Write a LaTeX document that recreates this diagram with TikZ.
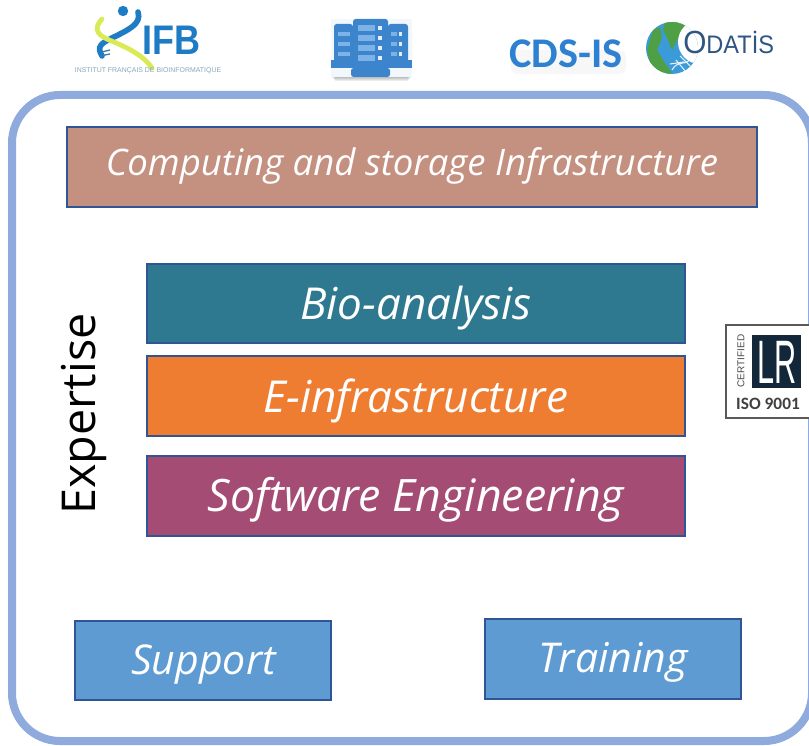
\documentclass[tikz,border=0pt]{standalone}
\usepackage{fontspec}
\setmainfont{Open Sans}
\newfontfamily\carfont{Carlito}
\newfontfamily\libfont{Liberation Sans}
\definecolor{frameblue}{HTML}{8FAADC}
\definecolor{edgeblue}{HTML}{2F5597}
\definecolor{rose}{HTML}{C49080}
\definecolor{teal2}{HTML}{2E7890}
\definecolor{orange2}{HTML}{EF7D31}
\definecolor{plum}{HTML}{A54C75}
\definecolor{sky}{HTML}{5F9BD3}
\definecolor{logoblue}{HTML}{2E80D0}
\definecolor{ifbblue}{HTML}{1E7CC4}
\definecolor{srv}{HTML}{3C85CC}
\definecolor{srvlight}{HTML}{7DB2E6}
\definecolor{odablue}{HTML}{2F5583}
\definecolor{globeblue}{HTML}{3B9BD8}
\definecolor{globegreen}{HTML}{4FA045}
\definecolor{lrdark}{HTML}{12283A}
\tikzset{
  box/.style={draw=edgeblue,line width=2.1pt,fill=#1},
  label/.style={text=white,font=\itshape\fontsize{33}{38}\selectfont,inner sep=0pt},
  smalllabel/.style={text=white,font=\itshape\fontsize{30.8}{36}\selectfont,inner sep=0pt},
  srvbar/.style={fill=srvlight},
  srvdot/.style={fill=white!85!srv},
}
\begin{document}
\begin{tikzpicture}[x=0.75pt,y=-0.75pt]
\useasboundingbox (0,0) rectangle (809,745);
\begin{scope}
\clip (0,0) rectangle (809,745);
\draw[frameblue,line width=6pt,rounded corners=36pt] (12,95) rectangle (812,741);

% boxes
\draw[box=rose] (67,127) rectangle (757,207);
\draw[box=teal2] (147,264) rectangle (685,343);
\draw[box=orange2] (147,356) rectangle (685,436);
\draw[box=plum] (147,456) rectangle (685,536);
\draw[box=sky] (75,621) rectangle (331,700);
\draw[box=sky] (485,619) rectangle (741,699);

\node[label,font=\itshape\fontsize{27.4}{32}\selectfont] (compute) at (412,166) {Computing and storage Infrastructure};
\node[label] (bio) at (416,308) {Bio-analysis};
\node[label] (einfra) at (416,401) {E-infrastructure};
\node[label,font=\itshape\fontsize{33.5}{38}\selectfont] (soft) at (416,500) {Software Engineering};
\node[smalllabel] (support) at (203.5,665) {Support};
\node[smalllabel] (training) at (613,662) {Training};
\node[rotate=90,font=\fontsize{35}{40}\selectfont,inner sep=0pt] (expertise) at (84,414) {Expertise};

% IFB logo
\draw[ifbblue,line width=4.2pt,line cap=round] (138,12) .. controls (142,24) and (128,30) .. (112,38) .. controls (102,43) and (96,46) .. (102,56);
\draw[ifbblue!70!gray,line width=1pt] (102,52) -- (110,50) (100,56) -- (110,54);
\fill[ifbblue] (123,11) circle (5.2);
\draw[color=white!35!yellow!85!green,line width=3.6pt,line cap=round] (102,19) .. controls (92,30) and (98,36) .. (114,42) .. controls (130,49) and (144,56) .. (152,68);
\node[text=ifbblue,font=\libfont\bfseries\fontsize{31}{36}\selectfont,inner sep=0pt] (ifb) at (171,40) {\scalebox{0.87}[1]{IFB}};
\node[text=gray!55!ifbblue!70!white,font=\libfont\fontsize{5.2}{6}\selectfont,inner sep=0pt] (ifbsub) at (148,71) {INSTITUT FRANÇAIS DE BIOINFORMATIQUE};

% server icon
\foreach \i in {1,...,4}{\fill[black,opacity=0.07] (331+\i,30) rectangle (412-\i,77+\i);}
\fill[white!90!srvlight] (331,19) rectangle (412,77);
\fill[srv,rounded corners=2pt] (334,24) rectangle (353,62);
\fill[srv,rounded corners=2pt] (388,24) rectangle (408,62);
\fill[srv] (331,60) rectangle (412,68);
\fill[srv,rounded corners=2pt] (353,19) rectangle (388,68);
\fill[srv,rounded corners=2pt] (351,68) rectangle (390,77);
\foreach \y in {25,35,45,55}{
  \fill[srvbar] (358,\y) rectangle (375,\y+6);
  \fill[srvdot] (378,\y+1) rectangle (382,\y+5);
}
\foreach \y in {32,42,52}{
  \fill[srvbar] (338,\y) rectangle (350,\y+4);
  \fill[srvbar] (391,\y) rectangle (397,\y+4);
  \fill[srvdot] (399,\y) rectangle (402,\y+4);
}

% CDS-IS
\fill[black,opacity=0.03,rounded corners=5pt] (511,50) rectangle (626,74);
\node[text=logoblue,font=\carfont\bfseries\fontsize{31.7}{36}\selectfont,inner sep=0pt] (cds) at (566,54) {CDS-IS};

% ODATIS
\begin{scope}
\clip (672,48) circle (26);
\fill[globeblue] (640,20) rectangle (700,80);
\fill[globegreen] (647,50) -- (653,30) -- (660,27) -- (662,38) -- (657,50) -- (663,60) -- (672,73) -- (660,76) -- (650,63) -- cycle;
\fill[globegreen] (665,21) -- (690,21) -- (682,33) -- (677,40) -- (672,50) -- (668,40) -- (663,30) -- cycle;
\draw[white!85!globeblue,line width=0.8pt] (672,70) .. controls (678,60) and (682,66) .. (690,60) (676,60) -- (686,72) (680,56) -- (692,68) (670,64) -- (684,62);
\fill[white] (700,42) circle (22);
\end{scope}
\node[text=odablue,font=\libfont\fontsize{19}{24}\selectfont,inner sep=0pt,anchor=base west] (odatis) at (683,54) {\scalebox{0.93}[1]{{\fontsize{24}{24}\selectfont O}DATIS}};
\fill[odablue] (755,32) circle (1.6);

% ISO certificate
\draw[draw=black!65,line width=0.9pt,fill=white] (726,325) rectangle (812,418);
\fill[lrdark] (752,335) rectangle (801,388);
\node[text=white,font=\libfont\fontsize{46}{50}\selectfont,inner sep=0pt] (lr) at (777,362) {\scalebox{0.5}[1]{LR}};
\node[rotate=90,text=black!70,font=\libfont\fontsize{7.5}{9}\selectfont,inner sep=0pt] (certified) at (741,361) {CERTIFIED};
\node[text=black!75,font=\carfont\bfseries\fontsize{13}{15}\selectfont,inner sep=0pt] (iso) at (768,404) {ISO 9001};
\end{scope}
\end{tikzpicture}
\end{document}
